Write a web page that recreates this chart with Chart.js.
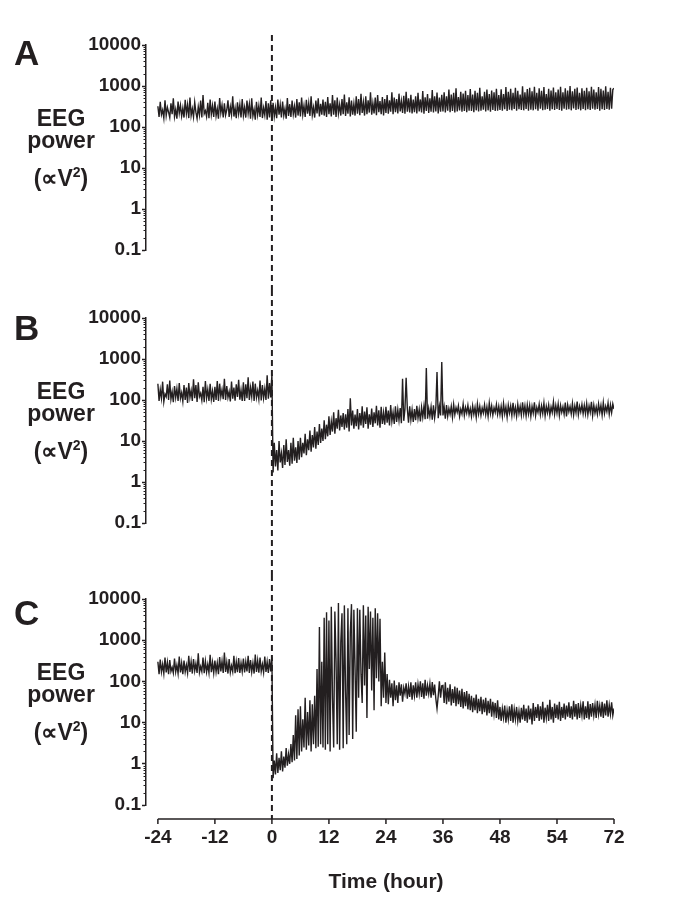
<!DOCTYPE html>
<html>
<head>
<meta charset="utf-8">
<script src="https://cdn.jsdelivr.net/npm/chart.js@4.4.0/dist/chart.umd.min.js"></script>
<style>
  html, body { margin: 0; padding: 0; background: #fff; }
  body { width: 684px; height: 919px; position: relative; overflow: hidden;
         font-family: "Liberation Sans", Arial, Helvetica, sans-serif; color: #231f20; }
  canvas { position: absolute; left: 0; }
  .txt { position: absolute; font-weight: bold; line-height: 1; white-space: nowrap; z-index: 2; }
  .letter { left: 14px; font-size: 35px; }
  .ytitle { left: 0; width: 122px; text-align: center; font-size: 23px; }
  .ytitle .sq { font-size: 14px; position: relative; top: -9px; }
  .xtitle { left: 286px; width: 200px; text-align: center; font-size: 21px; top: 870px; }
</style>
</head>
<body>
<canvas id="chartA" width="684" height="290" style="top:0px"></canvas>
<canvas id="chartB" width="684" height="285" style="top:290px"></canvas>
<canvas id="chartC" width="684" height="344" style="top:575px"></canvas>

<div class="txt letter" style="top:35px">A</div>
<div class="txt letter" style="top:310px">B</div>
<div class="txt letter" style="top:595px">C</div>

<div class="txt ytitle" style="top:107px">EEG</div>
<div class="txt ytitle" style="top:129px">power</div>
<div class="txt ytitle" style="top:167px">(∝V<span class="sq">2</span>)</div>

<div class="txt ytitle" style="top:380px">EEG</div>
<div class="txt ytitle" style="top:402px">power</div>
<div class="txt ytitle" style="top:440px">(∝V<span class="sq">2</span>)</div>

<div class="txt ytitle" style="top:661px">EEG</div>
<div class="txt ytitle" style="top:683px">power</div>
<div class="txt ytitle" style="top:721px">(∝V<span class="sq">2</span>)</div>

<div class="txt xtitle">Time (hour)</div>

<script>
// sampling grid of the traces (hours after injection)
const startHour = -24;
const stepHour = 0.25;

const xTickValues = [-24, -12, 0, 12, 24, 36, 48, 60, 72];
const xTickLabels = ['-24', '-12', '0', '12', '24', '36', '48', '54', '72'];
const yTickValues = [0.1, 1, 10, 100, 1000, 10000];
const yTickLabels = ['0.1', '1', '10', '100', '1000', '10000'];

// EEG power, one value every quarter hour from -24 h to 72 h (one row = 6 h)
const powerA = [
  320,175,410,200,260,165,450,190,300,230,170,380,205,500,180,270,160,420,215,340,185,290,170,460,
  210,350,165,520,190,280,175,400,230,160,310,195,440,170,600,210,250,180,390,165,470,200,330,175,
  420,185,280,160,510,220,340,170,380,195,260,450,175,310,200,560,180,290,165,400,210,350,170,480,
  190,300,170,440,215,360,160,500,185,270,150,410,200,330,175,520,165,290,195,430,150,380,170,450,
  140,390,180,300,165,470,200,350,170,420,190,280,160,510,185,360,175,440,205,320,170,480,190,400,
  180,520,200,330,175,460,210,380,185,560,195,300,170,440,215,500,180,370,200,470,190,410,175,540,
  205,380,180,600,200,450,175,520,215,350,190,480,205,620,185,400,210,530,180,440,200,370,190,560,
  210,480,195,650,220,400,190,560,205,450,225,700,200,380,215,520,195,600,230,430,205,540,190,480,
  220,600,210,450,235,700,205,520,230,480,215,650,240,430,220,580,210,720,235,500,225,610,215,470,
  230,560,215,680,240,470,225,750,210,530,245,640,220,500,235,800,225,560,240,690,215,520,235,610,
  240,700,225,560,250,820,230,620,245,680,225,880,240,540,255,720,235,650,245,760,230,600,250,840,
  245,620,230,760,255,680,240,900,250,560,265,720,240,820,255,640,235,780,260,700,245,860,250,600,
  260,830,250,640,270,940,245,720,265,860,255,680,275,900,250,760,270,620,260,980,255,700,275,840,
  250,900,265,740,255,960,270,680,250,880,280,760,255,940,265,640,275,860,250,780,270,920,260,700,
  275,820,260,960,250,700,280,880,265,780,270,1000,255,740,285,860,260,920,270,680,255,880,275,760,
  255,900,270,740,260,960,280,820,265,700,275,940,250,860,270,780,260,980,275,720,265,900,280,820,
  880
];

const powerB = [
  250,95,180,110,280,90,140,120,240,100,300,105,160,88,220,115,190,95,260,110,150,92,230,100,
  200,85,260,115,170,95,320,110,230,90,270,120,145,98,210,88,290,112,180,95,250,105,165,90,
  210,100,290,95,250,120,180,105,330,100,220,115,160,92,280,108,200,96,240,118,310,102,175,95,
  270,95,240,110,360,100,200,120,280,95,250,115,170,105,300,98,230,112,190,100,400,108,260,115,
  420,1.7,9,2.4,6,1.9,10,3,5,2.2,8,2.6,11,3.1,6,2.5,9,2.8,12,3.3,7,2.9,10,3.5,
  12,4,9,5,15,4.5,11,6,18,5.5,14,7,22,6.5,17,8,26,9,20,10,32,11,25,13,
  40,14,30,17,50,15,36,20,58,18,42,22,48,19,45,21,60,17,110,24,55,20,44,23,
  60,19,48,24,70,21,52,26,66,20,45,25,62,22,50,27,72,24,56,21,68,26,49,25,
  68,28,55,24,75,30,50,26,70,29,58,32,64,27,330,31,60,350,62,28,70,33,58,29,
  60,32,72,36,58,30,66,38,70,34,600,35,62,40,68,33,74,37,64,480,36,70,42,850,
  42,68,35,75,40,62,45,70,38,78,44,65,50,72,40,60,46,80,42,66,48,74,44,62,
  40,72,45,66,38,80,46,70,42,64,48,76,44,68,40,84,47,72,43,65,50,78,45,70,
  44,70,40,82,46,68,38,75,48,72,42,85,45,66,40,78,47,70,43,88,46,72,41,76,
  46,74,40,70,48,88,42,66,50,78,44,72,47,84,41,70,49,76,43,68,50,90,45,74,
  48,80,42,74,50,68,45,86,40,76,52,70,46,82,43,72,49,92,44,70,51,78,46,74,
  46,82,44,72,50,90,42,75,48,68,45,80,50,74,43,86,47,70,52,84,45,76,49,80,
  60
];

const powerC = [
  300,150,340,170,260,155,380,165,290,150,330,175,220,160,360,170,250,155,400,165,280,150,320,170,
  250,160,420,170,300,155,350,180,270,160,480,165,230,175,380,158,310,170,260,162,440,168,290,160,
  320,170,280,150,390,175,310,160,500,170,290,155,350,165,240,172,420,158,300,168,370,160,280,175,
  360,165,300,175,420,160,330,170,280,155,450,170,320,162,380,175,260,165,400,170,300,160,350,175,
  380,0.45,1.2,0.55,1.8,0.6,1.4,0.7,2,0.65,1.5,0.8,2.4,0.9,1.7,1,3,1.1,5,1.2,15,1.3,21,1.6,
  25,2,12,2.5,40,2.2,18,2.8,35,2,28,3,45,2.4,200,2.6,2100,3,300,2.5,3500,2.2,4800,3,
  3000,2,6500,40,2.5,5000,300,3,8000,2.2,900,4500,2.4,7000,60,3,6000,5,1500,7500,4,5500,200,6,
  6000,40,5500,150,30,7000,80,4000,13,6500,200,5000,60,3500,20,6000,120,4500,100,3300,25,300,40,500,
  30,150,28,110,40,90,25,105,35,80,30,95,45,85,32,70,50,90,38,75,42,95,36,80,
  45,95,40,85,50,100,42,90,38,110,45,80,50,88,40,96,46,84,38,22,44,100,40,78,
  80,30,95,28,70,32,85,26,65,30,75,25,70,28,60,24,66,22,55,25,58,21,50,20,
  45,18,40,20,48,17,38,19,42,16,36,18,40,15,34,17,38,14,32,16,30,13,35,12,
  24,11,22,13,26,10,20,12,25,11,28,10,21,12,24,11,19,10,23,12,27,11,22,10,
  26,12,22,9,30,11,24,13,28,11,25,12,32,10,23,13,27,11,36,12,24,10,29,13,
  27,12,32,11,24,13,29,12,26,14,31,13,25,12,34,14,28,12,30,13,26,15,33,12,
  25,13,33,12,28,14,30,15,27,13,34,16,26,14,32,13,29,15,35,14,27,16,31,15,
  22
];

const ink = '#231f20';
const tickFont = { family: '"Liberation Sans", Arial, sans-serif', size: 19, weight: 'bold' };

// dashed injection line, minor log ticks and the offset x axis
const panelDeco = {
  id: 'panelDeco',
  afterDraw(chart, args, opts) {
    const ctx = chart.ctx;
    const xs = chart.scales.x;
    const ys = chart.scales.y;
    const axisX = chart.chartArea.left;
    ctx.save();
    ctx.strokeStyle = ink;

    ctx.lineWidth = 1;
    yTickValues.slice(0, -1).forEach(d => {
      for (let m = 2; m <= 9; m++) {
        const y = Math.round(ys.getPixelForValue(m * d)) + 0.5;
        ctx.beginPath();
        ctx.moveTo(axisX - 2.5, y);
        ctx.lineTo(axisX, y);
        ctx.stroke();
      }
    });

    const x0 = xs.getPixelForValue(0);
    ctx.lineWidth = 2;
    ctx.setLineDash([6, 4]);
    ctx.beginPath();
    ctx.moveTo(x0, opts.dashTop);
    ctx.lineTo(x0, opts.dashBottom);
    ctx.stroke();
    ctx.setLineDash([]);

    if (opts.axisY !== undefined) {
      const y = opts.axisY;
      ctx.lineWidth = 1.5;
      ctx.beginPath();
      ctx.moveTo(xs.getPixelForValue(xTickValues[0]), y);
      ctx.lineTo(xs.getPixelForValue(xTickValues[xTickValues.length - 1]), y);
      ctx.stroke();
      xTickValues.forEach(v => {
        const x = xs.getPixelForValue(v);
        ctx.beginPath();
        ctx.moveTo(x, y);
        ctx.lineTo(x, y + 5);
        ctx.stroke();
      });
    }
    ctx.restore();
  }
};

const makePanel = (canvasId, values, pad, deco, showX) => {
  const points = values.map((v, i) => ({ x: startHour + i * stepHour, y: v }));
  return new Chart(document.getElementById(canvasId), {
    type: 'line',
    data: {
      datasets: [{
        data: points,
        borderColor: ink,
        borderWidth: 1.4,
        pointRadius: 0,
        tension: 0,
        fill: false
      }]
    },
    options: {
      responsive: false,
      animation: false,
      devicePixelRatio: 1,
      layout: { padding: pad },
      plugins: {
        legend: { display: false },
        tooltip: { enabled: false },
        panelDeco: deco
      },
      scales: {
        x: {
          type: 'linear',
          min: -26.5,
          max: 72,
          display: showX,
          afterBuildTicks: s => { s.ticks = xTickValues.map(v => ({ value: v })); },
          afterFit: s => { if (showX) s.height = 114; },
          grid: { display: false, drawTicks: false },
          border: { display: false },
          ticks: {
            padding: 21,
            color: ink,
            font: tickFont,
            maxRotation: 0,
            autoSkip: false,
            callback: (v, i) => xTickLabels[i]
          }
        },
        y: {
          type: 'logarithmic',
          min: 0.1,
          max: 10000,
          afterBuildTicks: s => { s.ticks = yTickValues.map(v => ({ value: v })); },
          afterFit: s => { s.width = 146; },
          grid: {
            drawOnChartArea: false,
            drawTicks: true,
            tickLength: 4,
            tickColor: ink,
            tickWidth: 1.5
          },
          border: { display: true, color: ink, width: 1.5 },
          ticks: {
            padding: 1,
            color: ink,
            font: tickFont,
            autoSkip: false,
            callback: (v, i) => yTickLabels[i]
          }
        }
      }
    },
    plugins: [panelDeco]
  });
};

makePanel('chartA', powerA, { top: 45, bottom: 40, left: 0, right: 70 },
  { dashTop: 35, dashBottom: 290 }, false);
makePanel('chartB', powerB, { top: 28, bottom: 52, left: 0, right: 70 },
  { dashTop: 0, dashBottom: 285 }, false);
makePanel('chartC', powerC, { top: 24, bottom: 0, left: 0, right: 70 },
  { dashTop: 0, dashBottom: 244, axisY: 244 }, true);
</script>
</body>
</html>
